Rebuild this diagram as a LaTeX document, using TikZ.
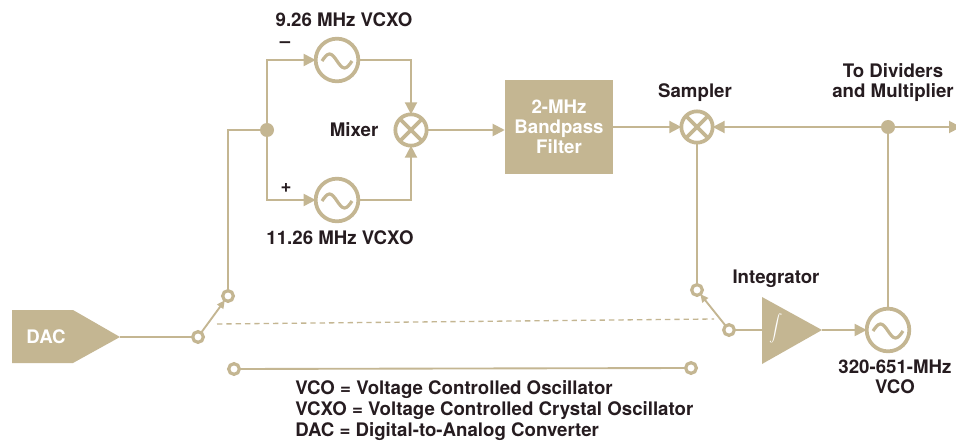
\documentclass[tikz,border=0pt]{standalone}
\usepackage{fontspec}
\setmainfont{TeX Gyre Heros}
\usepackage{xcolor}
\usetikzlibrary{arrows.meta,positioning}
\definecolor{tan}{RGB}{196,182,146}
\definecolor{ink}{RGB}{38,28,32}

\tikzset{
  wire/.style={draw=tan, line width=1.4pt},
  feed/.style={wire, -{Triangle[length=9pt,width=9pt]}},
  arm/.style={wire, -{Triangle[length=6pt,width=5.5pt]}},
  osc/.style={circle, draw=tan, line width=2.8pt, minimum size=32pt, inner sep=0pt, outer sep=0pt},
  mult/.style={circle, draw=tan, line width=2.8pt, minimum size=23.5pt, inner sep=0pt, outer sep=0pt},
  contact/.style={circle, draw=tan, fill=white, line width=2.4pt, minimum size=8pt, inner sep=0pt, outer sep=0pt},
  dot/.style={circle, fill=tan, minimum size=10.5pt, inner sep=0pt, outer sep=0pt},
  wave/.style={draw=tan, line width=2.4pt},
  lbl/.style={text=ink, font=\fontsize{14}{15}\selectfont\bfseries, inner sep=0.75pt},
}

\begin{document}
\begin{tikzpicture}[x=0.75pt,y=0.75pt,yscale=-1,xscale=1]
\path[fill=white, use as bounding box] (0,0) rectangle (956,445);
%Shapes: DAC
\fill[tan] (12,310) -- (73,310) -- (120,337) -- (73,363) -- (12,363) -- cycle;
\node[lbl, text=white] (dac) at (46,337) {DAC};
\coordinate (dacout) at (120,337);
%Shapes: Integrator
\fill[tan] (762,297) -- (822,330) -- (762,364) -- cycle;
\node[text=white, font=\fontsize{14}{16}\selectfont] (intsym) at (776,328) {$\displaystyle\int$};
\coordinate (intin) at (762,330);
\coordinate (intout) at (822,330);
%Blocks
\node[osc] (vcxoA) at (337,60) {};
\node[osc] (vcxoB) at (337,200) {};
\node[osc] (vco) at (888,330) {};
\node[mult] (mix) at (411,130) {};
\node[mult] (samp) at (697,127) {};
\node[fill=tan, minimum width=81pt, minimum height=71pt, inner sep=0pt, text=white, align=center,
  font=\fontsize{14}{15}\selectfont\bfseries] (filt) at (559,127) {2-MHz\\Bandpass\\Filter};
%Junctions and switch contacts
\node[dot] (jL) at (267,130) {};
\node[dot] (jR) at (888,127) {};
\node[contact] (swAlo) at (198,337) {};
\node[contact] (swAup) at (228,296) {};
\node[contact] (swBup) at (697,290) {};
\node[contact] (swBlo) at (729,330) {};
\node[contact] (cA) at (234,369) {};
\node[contact] (cB) at (691,368) {};
\coordinate (outR) at (961,127);
\coordinate (linkL) at (217,324);
\coordinate (linkR) at (714,319);
%Sine glyphs and mixer crosses
\foreach \o in {vcxoA,vcxoB,vco}
  \draw[wave] (\o.center) ++(-15,1) sin ++(7.5,-7) cos ++(7.5,7) sin ++(7.5,7) cos ++(7.5,-7);
\foreach \m in {mix,samp}
  \draw[tan, line width=2.8pt] (\m.45) -- (\m.225) (\m.135) -- (\m.315);
%Straight Lines
\draw[wire] (dacout) -- (swAlo);
\draw[arm] (swAlo) -- (swAup);
\draw[wire] (swAup) |- (jL);
\draw[feed] (jL) |- (vcxoA);
\draw[feed] (jL) |- (vcxoB);
\draw[feed] (vcxoA) -| (mix);
\draw[feed] (vcxoB) -| (mix);
\draw[feed] (mix) -- (mix -| filt.west);
\draw[feed] (filt) -- (samp);
\draw[feed] (jR) -- (samp);
\draw[feed] (jR) -- (outR);
\draw[wire] (samp) -- (swBup);
\draw[arm] (swBlo) -- (swBup);
\draw[wire] (swBlo) -- (intin);
\draw[feed] (intout) -- (vco);
\draw[wire] (vco) -- (jR);
\draw[wire] (cA) -- (cB);
\draw[tan, line width=1pt, dash pattern=on 4pt off 3pt] (linkL) -- (linkR);
% Text Node
\node[lbl] (lA) at (344,20) {9.26 MHz VCXO};
\node[lbl] (lB) at (340,238) {11.26 MHz VCXO};
\node[lbl] (minus) at (285,45) {--};
\node[lbl] (plus) at (286,188) {+};
\node[lbl] (lmix) at (354,130) {Mixer};
\node[lbl] (lsamp) at (695,93) {Sampler};
\node[lbl, align=center] (lout) at (893,83) {To Dividers\\and Multiplier};
\node[lbl] (lint) at (776,279) {Integrator};
\node[lbl, align=center] (lvco) at (895,377) {320-651-MHz\\VCO};
\node[lbl, align=left, anchor=west, font=\fontsize{14}{15.8}\selectfont\bfseries] (legend) at (294,411)
  {VCO = Voltage Controlled Oscillator\\VCXO = Voltage Controlled Crystal Oscillator\\DAC = Digital-to-Analog Converter};
\end{tikzpicture}
\end{document}
